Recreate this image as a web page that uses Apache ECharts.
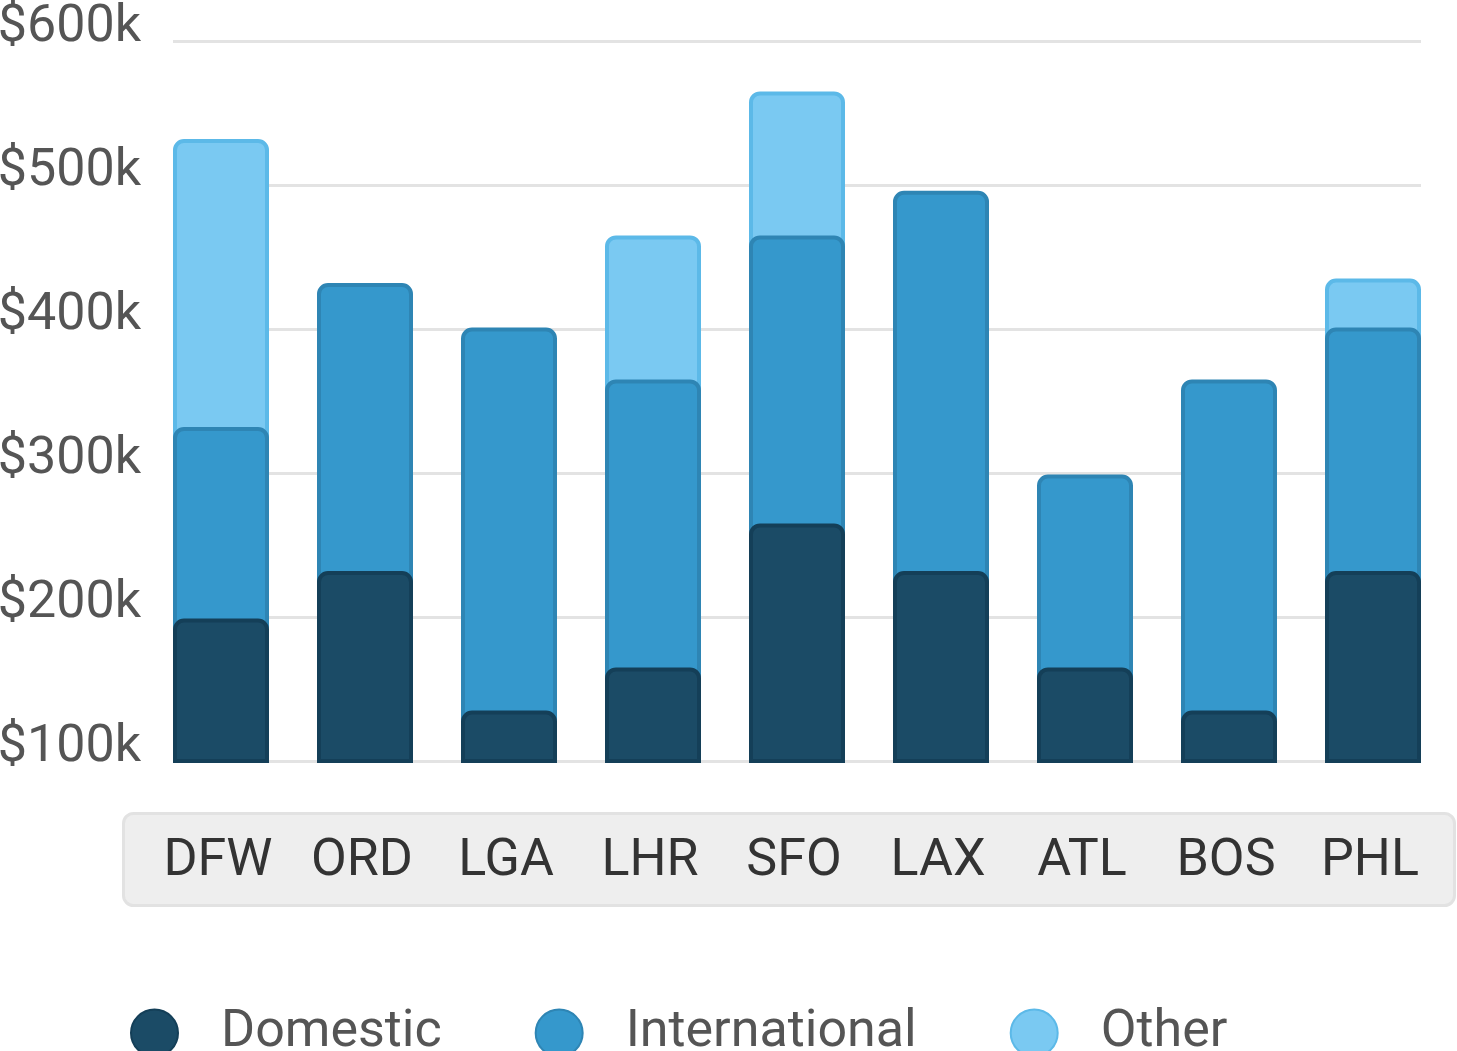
<!DOCTYPE html>
<html>
<head>
<meta charset="utf-8">
<title>Revenue by airport</title>
<script src="https://cdn.jsdelivr.net/npm/echarts@6/dist/echarts.min.js"></script>
<style>
  html, body { margin: 0; padding: 0; background: #fff; }
  #chart { width: 1457px; height: 1051px; }
</style>
</head>
<body>
<div id="chart"></div>
<script>
// values in $k
const categories = ['DFW', 'ORD', 'LGA', 'LHR', 'SFO', 'LAX', 'ATL', 'BOS', 'PHL'];
const domestic = [199, 232, 135, 165, 265, 232, 165, 135, 232];
const international = [133, 200, 266, 200, 200, 264, 134, 230, 169];
const other = [200, null, null, 100, 100, null, null, null, 34];
const yMin = 100;
const yMax = 600;
const yStep = 100;

const colors = {
    Domestic: { fill: '#1b4b66', border: '#143f58' },
    International: { fill: '#3598cc', border: '#2e85b4' },
    Other: { fill: '#7ac9f2', border: '#5cb9e8' }
};

// segments overlap from the baseline so every top gets its rounded corners
const intlTop = domestic.map((d, i) => d + international[i]);
const otherTop = intlTop.map((t, i) => (other[i] == null ? null : t + other[i]));

function barSeries(name, data) {
    return {
        name: name,
        type: 'bar',
        xAxisIndex: 0,
        yAxisIndex: 0,
        data: data,
        barWidth: 96,
        barGap: '-100%',
        itemStyle: {
            color: colors[name].fill,
            borderColor: colors[name].border,
            borderWidth: 4,
            borderRadius: [9, 9, 0, 0]
        }
    };
}

const font = 'Roboto, "Noto Sans", sans-serif';
const chart = echarts.init(document.getElementById('chart'));

chart.setOption({
    animation: false,
    grid: [
        { left: 149, width: 1296, top: 41, height: 720, outerBoundsMode: 'none' },
        { left: 173, width: 1248, top: 41, height: 720, outerBoundsMode: 'none' }
    ],
    graphic: [{
        type: 'rect',
        z: -1,
        shape: { x: 123.5, y: 813.5, width: 1331, height: 92, r: 10 },
        style: { fill: '#eeeeee', stroke: '#e2e2e2', lineWidth: 3 }
    }],
    xAxis: [
        {
            gridIndex: 0,
            type: 'category',
            data: categories,
            axisLine: { show: false },
            axisTick: { show: false },
            axisLabel: {
                margin: 101,
                verticalAlign: 'middle',
                padding: [0, 6, 0, 0],
                fontFamily: font,
                fontSize: 52,
                color: '#333333'
            }
        },
        { gridIndex: 1, type: 'category', data: categories, show: false }
    ],
    yAxis: [
        { gridIndex: 0, type: 'value', min: yMin, max: yMax, interval: yStep, show: false },
        {
            gridIndex: 1,
            type: 'value',
            min: yMin,
            max: yMax,
            interval: yStep,
            axisLine: { show: false },
            axisTick: { show: false },
            splitLine: { lineStyle: { color: '#e3e3e3', width: 3 } },
            axisLabel: {
                margin: 32,
                verticalAlign: 'bottom',
                lineHeight: 26,
                fontFamily: font,
                fontSize: 52,
                color: '#555555',
                formatter: v => '$' + v + 'k'
            }
        }
    ],
    legend: {
        data: ['Domestic', 'International', 'Other'],
        icon: 'circle',
        left: 125,
        top: 1002,
        itemWidth: 47,
        itemHeight: 47,
        itemGap: 93,
        formatter: name => '{gap|}' + name,
        textStyle: {
            fontFamily: font,
            fontSize: 52,
            color: '#555555',
            rich: { gap: { width: 38 } }
        }
    },
    series: [
        barSeries('Other', otherTop),
        barSeries('International', intlTop),
        barSeries('Domestic', domestic)
    ]
});
</script>
</body>
</html>
